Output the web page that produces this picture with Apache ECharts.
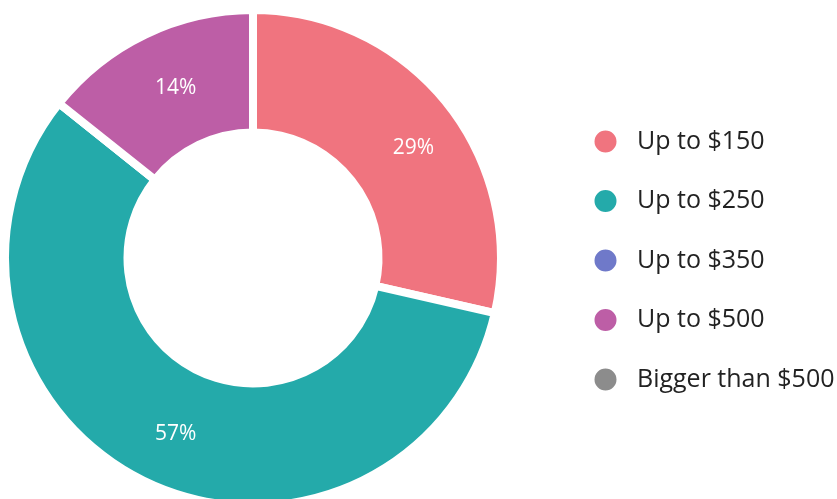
<!DOCTYPE html>
<html>
<head>
<meta charset="utf-8">
<script src="https://cdn.jsdelivr.net/npm/echarts@6/dist/echarts.min.js"></script>
<style>
  html, body { margin: 0; padding: 0; background: #fff; }
  #chart { width: 837px; height: 499px; }
</style>
</head>
<body>
<div id="chart"></div>
<script>
// price buckets and counts
var categories = ['Up to $150', 'Up to $250', 'Up to $350', 'Up to $500', 'Bigger than $500'];
var counts = [2, 4, 0, 1, 0];
var colors = ['#f0747f', '#24aaaa', '#6f79c9', '#bd5ea6', '#8c8c8c'];

var chart = echarts.init(document.getElementById('chart'));

// small nudges so the % labels sit where the original puts them
var labelNudge = [[12, 8], [5, 5], [0, 0], [5, 1], [0, 0]];

var option = {
    color: colors
    , textStyle: {
        fontFamily: 'Open Sans'
    }
    , legend: {
        orient: 'vertical'
        , left: 592.5
        , top: 128.5
        , padding: 0
        , icon: 'circle'
        , itemWidth: 24
        , itemHeight: 24
        , itemGap: 33.5
        , textStyle: {
            fontSize: 25
            , color: '#222'
            , fontFamily: 'Open Sans'
            , padding: [0, 0, 0, 14.5]
        }
        , data: categories
    }
    , series: [{
        type: 'pie'
        , center: [253, 258]
        , radius: [125.5, 248]
        , startAngle: 90
        , clockwise: true
        , itemStyle: {
            borderColor: '#fff'
            , borderWidth: 8
        }
        , label: {
            show: true
            , position: 'inside'
            , color: '#fff'
            , fontSize: 21
            , fontFamily: 'Open Sans'
            , formatter: function (p) {
                return p.value ? Math.round(p.percent) + '%' : '';
            }
        }
        , labelLine: { show: false }
        , emphasis: { scale: false }
        , data: categories.map(function (c, i) {
            return { name: c, value: counts[i], label: { offset: labelNudge[i] } };
        })
    }]
};

chart.setOption(option);
</script>
</body>
</html>
